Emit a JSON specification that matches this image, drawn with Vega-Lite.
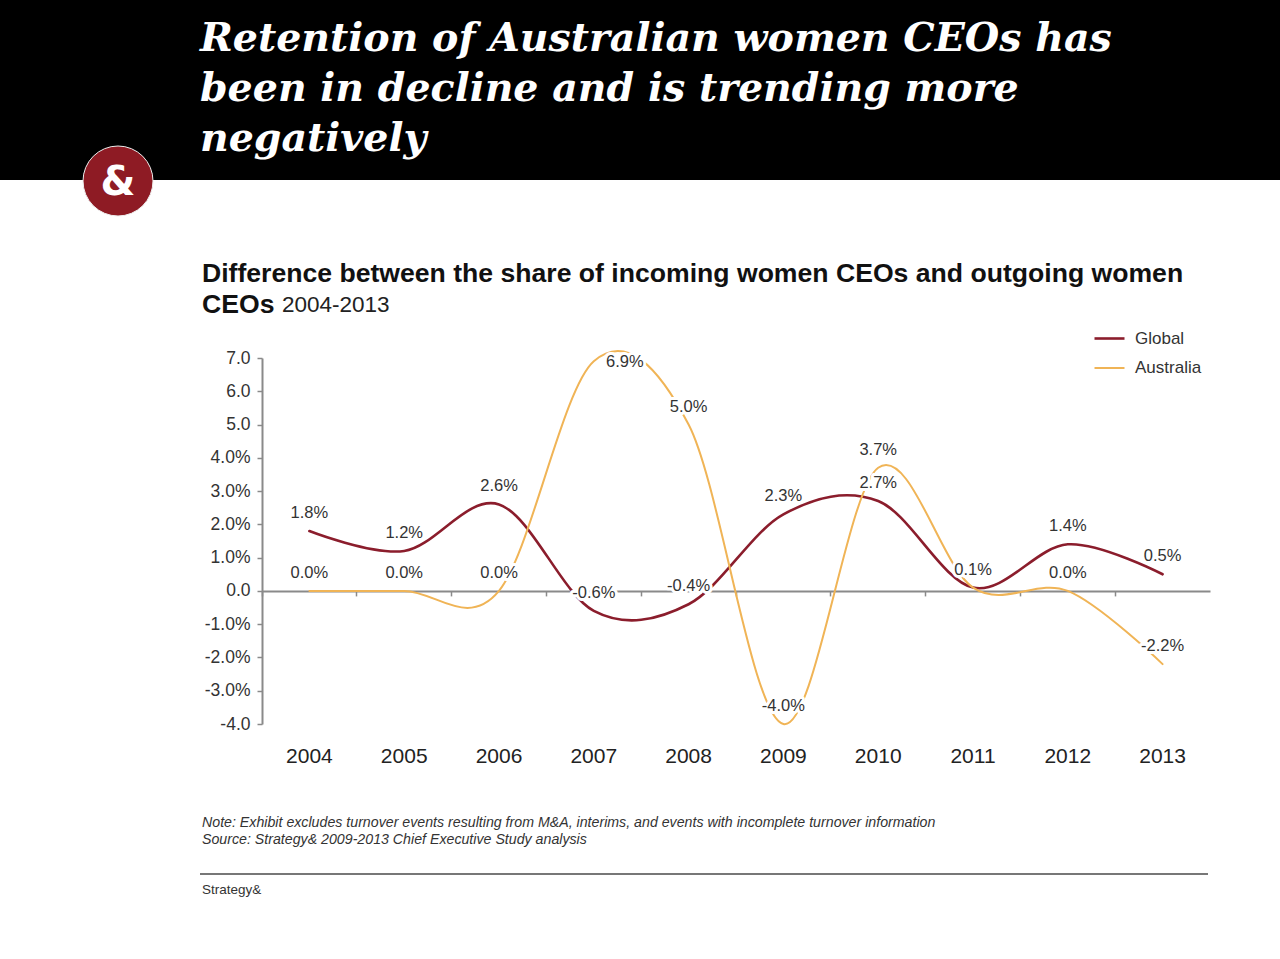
{
  "$schema": "https://vega.github.io/schema/vega-lite/v6.json",
  "background": "white",
  "padding": 0,
  "columns": 3,
  "spacing": 0,
  "bounds": "flush",
  "config": {
    "view": {"stroke": null},
    "font": "Liberation Sans"
  },
  "concat": [
    {
      "width": 200,
      "height": 180,
      "view": {"fill": "#000000", "stroke": null},
      "data": {"values": [{"logo": "&"}]},
      "layer": [
        {
          "mark": {"type": "point", "shape": "circle", "filled": true, "color": "#8E1B24", "opacity": 1, "size": 4900, "stroke": "#eeeeee", "strokeWidth": 1},
          "encoding": {"x": {"value": 118}, "y": {"value": 181}}
        },
        {
          "mark": {"type": "text", "font": "DejaVu Sans", "fontWeight": "bold", "fontSize": 40, "color": "#ffffff", "align": "center", "baseline": "middle"},
          "encoding": {"x": {"value": 118}, "y": {"value": 183}, "text": {"field": "logo"}}
        }
      ]
    },
    {"width": 62, "height": 180, "view": {"fill": "#000000", "stroke": null}, "data": {"values": []}, "mark": "point"},
    {
      "width": 1018,
      "height": 180,
      "view": {"fill": "#000000", "stroke": null},
      "title": {
        "text": ["Retention of Australian women CEOs has", "been in decline and is trending more", "negatively"],
        "orient": "top",
        "anchor": "start",
        "frame": "group",
        "baseline": "bottom",
        "offset": -198,
        "dx": -62,
        "font": "DejaVu Serif",
        "fontStyle": "italic",
        "fontWeight": "bold",
        "fontSize": 39.5,
        "lineHeight": 50,
        "color": "#ffffff"
      },
      "data": {"values": []},
      "mark": "point"
    },
    {"width": 200, "height": 178, "data": {"values": []}, "mark": "point"},
    {"width": 62, "height": 178, "data": {"values": []}, "mark": "point"},
    {
      "width": 1,
      "height": 178,
      "title": {
        "text": "2004-2013",
        "orient": "bottom",
        "anchor": "start",
        "frame": "group",
        "baseline": "alphabetic",
        "offset": -46,
        "dx": 20,
        "limit": 0,
        "font": "Liberation Sans",
        "fontWeight": "normal",
        "fontSize": 22.5,
        "color": "#222222"
      },
      "data": {"values": []},
      "mark": "point"
    },
    {"width": 200, "height": 366, "data": {"values": []}, "mark": "point"},
    {"width": 62, "height": 366, "data": {"values": []}, "mark": "point"},
    {
      "width": 948,
      "height": 366,
      "title": {
        "text": ["Difference between the share of incoming women CEOs and outgoing women", "CEOs"],
        "anchor": "start",
        "frame": "group",
        "dx": -60,
        "offset": 28,
        "font": "Liberation Sans",
        "fontSize": 26.6,
        "fontWeight": "bold",
        "lineHeight": 31,
        "color": "#111111"
      },
      "data": {
        "values": [
          {"year": "2004", "series": "Global", "value": 1.8},
          {"year": "2005", "series": "Global", "value": 1.2},
          {"year": "2006", "series": "Global", "value": 2.6},
          {"year": "2007", "series": "Global", "value": -0.6},
          {"year": "2008", "series": "Global", "value": -0.4},
          {"year": "2009", "series": "Global", "value": 2.3},
          {"year": "2010", "series": "Global", "value": 2.7},
          {"year": "2011", "series": "Global", "value": 0.1},
          {"year": "2012", "series": "Global", "value": 1.4},
          {"year": "2013", "series": "Global", "value": 0.5},
          {"year": "2004", "series": "Australia", "value": 0.0},
          {"year": "2005", "series": "Australia", "value": 0.0},
          {"year": "2006", "series": "Australia", "value": 0.0},
          {"year": "2007", "series": "Australia", "value": 6.9},
          {"year": "2008", "series": "Australia", "value": 5.0},
          {"year": "2009", "series": "Australia", "value": -4.0},
          {"year": "2010", "series": "Australia", "value": 3.7},
          {"year": "2011", "series": "Australia", "value": 0.1},
          {"year": "2012", "series": "Australia", "value": 0.0},
          {"year": "2013", "series": "Australia", "value": -2.2}
        ]
      },
      "transform": [
        {"calculate": "(datum.value < 0 ? '-' : '') + format(abs(datum.value), '.1f') + '%'", "as": "label"}
      ],
      "encoding": {
        "x": {
          "field": "year",
          "type": "ordinal",
          "bandPosition": 0.5,
          "scale": {"type": "band", "paddingInner": 0, "paddingOuter": 0},
          "axis": {
            "title": null,
            "orient": "bottom",
            "offset": -133.09,
            "labelAngle": 0,
            "domainColor": "#8a8a8a",
            "domainWidth": 2,
            "ticks": true,
            "tickColor": "#8a8a8a",
            "tickWidth": 1.5,
            "tickSize": 5,
            "bandPosition": 0,
            "labelPadding": 150,
            "labelFontSize": 21,
            "labelColor": "#222222",
            "grid": false
          }
        },
        "y": {
          "field": "value",
          "type": "quantitative",
          "scale": {"domain": [-4, 7], "nice": false, "zero": false},
          "axis": {
            "title": null,
            "values": [-4, -3, -2, -1, 0, 1, 2, 3, 4, 5, 6, 7],
            "labelExpr": "(datum.value < 0 ? '-' : '') + format(abs(datum.value), '.1f') + (indexof([7, 6, 5, 0, -4], datum.value) >= 0 ? '' : '%')",
            "grid": false,
            "domainColor": "#8a8a8a",
            "domainWidth": 2,
            "tickColor": "#8a8a8a",
            "tickWidth": 1.5,
            "tickSize": 5,
            "labelPadding": 7,
            "labelFontSize": 17.5,
            "labelColor": "#333333"
          }
        }
      },
      "layer": [
        {
          "mark": {"type": "line", "interpolate": "cardinal", "tension": 0, "strokeCap": "round"},
          "encoding": {
            "color": {
              "field": "series",
              "type": "nominal",
              "scale": {"domain": ["Global", "Australia"], "range": ["#8B1D2C", "#F0B456"]},
              "legend": {
                "title": null,
                "orient": "none",
                "legendX": 1093,
                "legendY": 322,
                "symbolType": "stroke",
                "symbolSize": 900,
                "symbolStrokeWidth": 2.5,
                "labelFontSize": 17,
                "labelColor": "#333333",
                "labelOffset": 9,
                "rowPadding": 5
              }
            },
            "strokeWidth": {
              "field": "series",
              "type": "nominal",
              "scale": {"domain": ["Global", "Australia"], "range": [2.6, 2.0]},
              "legend": null
            }
          }
        },
        {
          "transform": [{"filter": "(datum.series !== 'Australia' || datum.year !== '2007') && (datum.series !== 'Australia' || datum.year !== '2011')"}],
          "mark": {"type": "text", "dy": -18, "fontSize": 16.5, "fill": "#ffffff", "stroke": "#ffffff", "strokeWidth": 6, "strokeJoin": "round"},
          "encoding": {"text": {"field": "label"}}
        },
        {
          "transform": [{"filter": "(datum.series !== 'Australia' || datum.year !== '2007') && (datum.series !== 'Australia' || datum.year !== '2011')"}],
          "mark": {"type": "text", "dy": -18, "fontSize": 16.5, "fill": "#333333"},
          "encoding": {"text": {"field": "label"}}
        },
        {
          "transform": [{"filter": "datum.series === 'Australia' && datum.year === '2007'"}],
          "mark": {"type": "text", "dx": 31, "dy": 1, "fontSize": 16.5, "fill": "#ffffff", "stroke": "#ffffff", "strokeWidth": 6, "strokeJoin": "round"},
          "encoding": {"text": {"field": "label"}}
        },
        {
          "transform": [{"filter": "datum.series === 'Australia' && datum.year === '2007'"}],
          "mark": {"type": "text", "dx": 31, "dy": 1, "fontSize": 16.5, "fill": "#333333"},
          "encoding": {"text": {"field": "label"}}
        }
      ]
    },
    {"width": 200, "height": 149, "data": {"values": []}, "mark": "point"},
    {
      "width": 62,
      "height": 149,
      "title": {
        "text": ["Note: Exhibit excludes turnover events resulting from M&A, interims, and events with incomplete turnover information", "Source: Strategy& 2009-2013 Chief Executive Study analysis"],
        "orient": "bottom",
        "anchor": "start",
        "frame": "group",
        "baseline": "top",
        "offset": -57,
        "dx": 2,
        "limit": 0,
        "font": "Liberation Sans",
        "fontStyle": "italic",
        "fontWeight": "normal",
        "fontSize": 14.2,
        "lineHeight": 17,
        "color": "#333333"
      },
      "data": {"values": []},
      "mark": "point"
    },
    {"width": 1, "height": 149, "data": {"values": []}, "mark": "point"},
    {"width": 200, "height": 2, "data": {"values": []}, "mark": "point"},
    {
      "width": 62,
      "height": 2,
      "view": {"fill": "#777777", "stroke": null},
      "title": {
        "text": "Strategy&",
        "orient": "bottom",
        "anchor": "start",
        "frame": "group",
        "baseline": "top",
        "offset": 8,
        "dx": 2,
        "limit": 0,
        "font": "Liberation Sans",
        "fontWeight": "normal",
        "fontSize": 13.5,
        "color": "#333333"
      },
      "data": {"values": []},
      "mark": "point"
    },
    {"width": 946, "height": 2, "view": {"fill": "#777777", "stroke": null}, "data": {"values": []}, "mark": "point"}
  ]
}
